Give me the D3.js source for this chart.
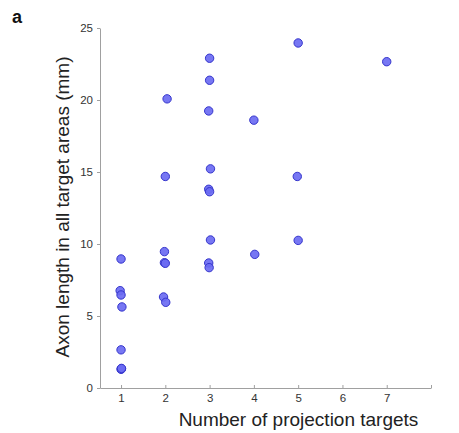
<!DOCTYPE html>
<html>
<head>
<meta charset="utf-8">
<script src="https://cdn.jsdelivr.net/npm/d3@7"></script>
<style>
  html, body { margin: 0; padding: 0; background: #fff; }
  svg { display: block; font-family: Arial, "Liberation Sans", sans-serif; }
</style>
</head>
<body>
<svg id="chart" width="459" height="433"></svg>
<script>
// Number of projection targets (with slight horizontal jitter as drawn)
const targets = [
  1.00, 0.98, 1.00, 1.02, 1.00, 1.01, 1.00, 1.01,
  2.04, 2.00, 1.98, 1.98, 2.00, 1.96, 2.01,
  3.00, 3.00, 2.98, 3.02, 2.98, 3.00, 3.02, 2.98, 2.99,
  4.00, 4.02,
  5.00, 4.98, 5.00,
  7.00
];
// Axon length in all target areas (mm)
const axonLength = [
  8.96, 6.76, 6.46, 5.63, 2.65, 1.33, 1.30, 1.36,
  20.08, 14.69, 9.47, 8.70, 8.66, 6.32, 5.95,
  22.9, 21.37, 19.24, 15.22, 13.8, 13.63, 10.28, 8.68, 8.36,
  18.6, 9.28,
  23.96, 14.69, 10.25,
  22.66
];
const xTicks = [1, 2, 3, 4, 5, 6, 7, 8];
const xTickLabels = ["1", "2", "3", "4", "5", "6", "7", ""];
const yTicks = [0, 5, 10, 15, 20, 25];

const svg = d3.select("#chart");
const x = d3.scaleLinear().domain([0.525, 8]).range([100, 431]);
const y = d3.scaleLinear().domain([0, 25]).range([388, 28]);

const axisColor = "#a0a0a0";
const textColor = "#333";

// X axis (ticks inward)
const gx = svg.append("g").attr("transform", "translate(0,388)")
  .call(d3.axisBottom(x).tickValues(xTicks)
    .tickFormat((d, i) => xTickLabels[i])
    .tickSizeInner(-3).tickSizeOuter(0).tickPadding(6));
gx.select(".domain").attr("stroke", axisColor);
gx.selectAll(".tick line").attr("stroke", axisColor);
gx.selectAll(".tick text").attr("fill", textColor).attr("font-size", 11.5)
  .attr("font-family", "Arial, 'Liberation Sans', sans-serif");

// Y axis (ticks outward)
const gy = svg.append("g").attr("transform", "translate(100,0)")
  .call(d3.axisLeft(y).tickValues(yTicks)
    .tickSizeInner(3).tickSizeOuter(0).tickPadding(4));
gy.select(".domain").attr("stroke", axisColor);
gy.selectAll(".tick line").attr("stroke", axisColor);
gy.selectAll(".tick text").attr("fill", textColor).attr("font-size", 11.5)
  .attr("font-family", "Arial, 'Liberation Sans', sans-serif");

// Points
svg.append("g").selectAll("circle")
  .data(targets.map((t, i) => ({ t, v: axonLength[i] })))
  .join("circle")
  .attr("cx", d => x(d.t))
  .attr("cy", d => y(d.v))
  .attr("r", 4.2)
  .attr("fill", "#6b6bf2")
  .attr("fill-opacity", 0.92)
  .attr("stroke", "#3535cc")
  .attr("stroke-width", 1);

// Axis titles
svg.append("text")
  .attr("x", 298.5).attr("y", 426)
  .attr("text-anchor", "middle")
  .attr("font-size", 19)
  .attr("fill", "#222")
  .text("Number of projection targets");

svg.append("text")
  .attr("transform", "translate(69,207) rotate(-90)")
  .attr("text-anchor", "middle")
  .attr("font-size", 19)
  .attr("fill", "#222")
  .text("Axon length in all target areas (mm)");

// Panel label
svg.append("text")
  .attr("x", 12).attr("y", 23)
  .attr("font-size", 18)
  .attr("font-weight", "bold")
  .attr("fill", "#111")
  .text("a");
</script>
</body>
</html>
